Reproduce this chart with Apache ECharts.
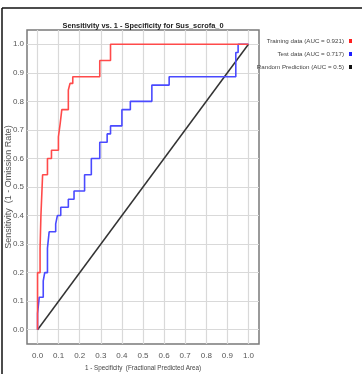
<!DOCTYPE html>
<html>
<head>
<meta charset="utf-8">
<script src="https://cdn.jsdelivr.net/npm/echarts@6/dist/echarts.min.js"></script>
<style>
  html, body { margin: 0; padding: 0; background: #fff; }
  #roc-chart { width: 362px; height: 374px; }
</style>
</head>
<body>
<div id="roc-chart"></div>
<script>
// tick labels shared by both axes
const tickValues = [0, 0.1, 0.2, 0.3, 0.4, 0.5, 0.6, 0.7, 0.8, 0.9, 1.0]

// training curve corners (1 - specificity, sensitivity)
const trainFpr = [0, 0, 0.012, 0.012, 0.016, 0.016, 0.024, 0.024, 0.047, 0.047, 0.066, 0.066, 0.099, 0.099, 0.107, 0.107, 0.115, 0.115, 0.146, 0.146, 0.154, 0.154, 0.167, 0.167, 0.295, 0.295, 0.346, 0.346, 1.0]
const trainTpr = [0, 0.2, 0.2, 0.286, 0.286, 0.4, 0.4, 0.543, 0.543, 0.6, 0.6, 0.629, 0.629, 0.676, 0.676, 0.72, 0.72, 0.771, 0.771, 0.84, 0.84, 0.863, 0.863, 0.886, 0.886, 0.943, 0.943, 1.0, 1.0]

// test curve corners
const testFpr = [0, 0, 0.008, 0.008, 0.027, 0.027, 0.034, 0.034, 0.047, 0.047, 0.055, 0.055, 0.086, 0.086, 0.094, 0.094, 0.11, 0.11, 0.146, 0.146, 0.173, 0.173, 0.223, 0.223, 0.255, 0.255, 0.295, 0.295, 0.33, 0.33, 0.346, 0.346, 0.40, 0.40, 0.44, 0.44, 0.542, 0.542, 0.624, 0.624, 0.94, 0.94, 0.951, 0.951, 1.0]
const testTpr = [0, 0.057, 0.057, 0.114, 0.114, 0.171, 0.171, 0.2, 0.2, 0.286, 0.286, 0.343, 0.343, 0.371, 0.371, 0.4, 0.4, 0.429, 0.429, 0.457, 0.457, 0.486, 0.486, 0.543, 0.543, 0.6, 0.6, 0.657, 0.657, 0.686, 0.686, 0.714, 0.714, 0.771, 0.771, 0.8, 0.8, 0.857, 0.857, 0.886, 0.886, 0.971, 0.971, 1.0, 1.0]

// random prediction diagonal
const randomFpr = [0, 1]
const randomTpr = [0, 1]

const seriesNames = ['Training data (AUC = 0.921)', 'Test data (AUC = 0.717)', 'Random Prediction (AUC = 0.5)']

const pairs = (xs, ys) => xs.map((x, i) => [x, ys[i]])

const narrow = '"Liberation Sans Narrow", "Liberation Sans", Arial, sans-serif'

function valueAxis(name, extra) {
  return Object.assign({
    type: 'value',
    min: -0.05,
    max: 1.05,
    name: name,
    nameLocation: 'middle',
    nameMoveOverlap: false,
    axisLine: { show: false, onZero: false },
    axisTick: {
      show: true,
      inside: true,
      length: 3,
      customValues: tickValues,
      lineStyle: { color: '#666' }
    },
    axisLabel: {
      customValues: tickValues,
      fontFamily: narrow,
      fontSize: 8,
      color: '#555',
      formatter: v => v.toFixed(1)
    },
    splitLine: { show: false }
  }, extra)
}

// grid lines: drawn as mark lines at the tick values
const gridLines = tickValues.map(v => ({ xAxis: v })).concat(tickValues.map(v => ({ yAxis: v })))

const chart = echarts.init(document.getElementById('roc-chart'))
chart.setOption({
  animation: false,
  title: {
    text: 'Sensitivity vs. 1 - Specificity for Sus_scrofa_0',
    left: 138,
    textAlign: 'center',
    top: 17,
    textStyle: { fontFamily: narrow, fontSize: 7.4, fontWeight: 'bold', color: '#222' }
  },
  legend: {
    orient: 'vertical',
    right: 5,
    top: 33,
    align: 'right',
    icon: 'rect',
    itemWidth: 3,
    itemHeight: 4,
    itemGap: 7,
    data: seriesNames,
    textStyle: { fontFamily: narrow, fontSize: 6.2, color: '#444', padding: [0, 0, 0, 0] }
  },
  grid: {
    left: 27,
    right: 103,
    top: 30,
    bottom: 30,
    outerBoundsMode: 'none',
    containLabel: false,
    show: true,
    borderColor: '#7a7a7a',
    borderWidth: 1.5
  },
  xAxis: [
    valueAxis('1 - Specificity  (Fractional Predicted Area)', {
      nameGap: 21,
      nameTextStyle: { fontFamily: narrow, fontSize: 6.3, color: '#444' },
      axisLabel: {
        customValues: tickValues,
        fontFamily: narrow,
        fontSize: 8,
        color: '#555',
        margin: 8,
        formatter: v => v.toFixed(1)
      }
    }),
    valueAxis('', {
      position: 'top',
      axisLabel: { show: false, customValues: tickValues }
    })
  ],
  yAxis: [
    valueAxis('Sensitivity  (1 - Omission Rate)', {
      nameGap: 14,
      nameTextStyle: { fontFamily: 'Liberation Sans, Arial, sans-serif', fontSize: 9, color: '#555' },
      axisLabel: {
        customValues: tickValues,
        fontFamily: narrow,
        fontSize: 8,
        color: '#555',
        margin: 3,
        formatter: v => v.toFixed(1)
      }
    }),
    valueAxis('', {
      position: 'right',
      axisLabel: { show: false, customValues: tickValues }
    })
  ],
  graphic: [
    { type: 'line', shape: { x1: 2, y1: 8, x2: 362, y2: 8 }, style: { stroke: '#111', lineWidth: 1.5 } },
    { type: 'line', shape: { x1: 2, y1: 8, x2: 2, y2: 374 }, style: { stroke: '#111', lineWidth: 1.5 } }
  ],
  series: [
    {
      type: 'line',
      data: [],
      silent: true,
      z: 1,
      markLine: {
        silent: true,
        z: 1,
        symbol: 'none',
        animation: false,
        label: { show: false },
        lineStyle: { color: '#d9d9d9', type: 'solid', width: 1.2 },
        data: gridLines
      }
    },
    {
      name: seriesNames[2],
      type: 'line',
      data: pairs(randomFpr, randomTpr),
      symbol: 'none',
      color: '#111',
      lineStyle: { color: '#333', width: 1.5 },
      z: 2
    },
    {
      name: seriesNames[1],
      type: 'line',
      data: pairs(testFpr, testTpr),
      symbol: 'none',
      color: '#1f1fff',
      lineStyle: { color: '#4a4aff', width: 1.6 },
      z: 3
    },
    {
      name: seriesNames[0],
      type: 'line',
      data: pairs(trainFpr, trainTpr),
      symbol: 'none',
      color: '#ff1f1f',
      lineStyle: { color: '#ff4a4a', width: 1.6 },
      z: 4
    }
  ]
})
</script>
</body>
</html>
